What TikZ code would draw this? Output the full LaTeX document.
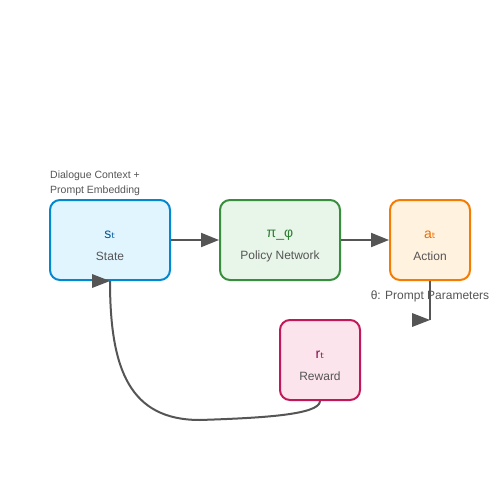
\documentclass[tikz,border=0pt]{standalone}
\usepackage{fontspec}
\setmainfont{Liberation Sans}
\newfontfamily\subfont{DejaVu Sans}
\usetikzlibrary{arrows.meta}
\definecolor{stateFill}{HTML}{E1F5FE}
\definecolor{stateLine}{HTML}{0288D1}
\definecolor{stateText}{HTML}{01579B}
\definecolor{policyFill}{HTML}{E8F5E9}
\definecolor{policyLine}{HTML}{388E3C}
\definecolor{policyText}{HTML}{2E7D32}
\definecolor{actionFill}{HTML}{FFF3E0}
\definecolor{actionLine}{HTML}{F57C00}
\definecolor{actionText}{HTML}{EF6C00}
\definecolor{rewardFill}{HTML}{FCE4EC}
\definecolor{rewardLine}{HTML}{C2185B}
\definecolor{rewardText}{HTML}{880E4F}
\definecolor{labelGray}{HTML}{555555}
\definecolor{arrowGray}{HTML}{555555}
\tikzstyle{box} = [draw, line width=2pt, rounded corners=10pt, minimum height=80pt]
\tikzstyle{sym} = [inner sep=0pt, font=\fontsize{14}{14}\selectfont]
\tikzstyle{lbl} = [inner sep=0pt, text=labelGray, font=\fontsize{12}{12}\selectfont]
\tikzstyle{note} = [inner sep=0pt, text=labelGray, font=\fontsize{10.5}{15}\selectfont]
\tikzstyle{arrow} = [line width=2pt, draw=arrowGray, -{Triangle[length=18pt,width=14pt]}]
\tikzstyle{line} = [line width=2pt, draw=arrowGray]
\newcommand{\headright}[1]{\fill[arrowGray] (#1) -- ++(-18,-7) -- ++(0,14) -- cycle;}

\begin{document}
\begin{tikzpicture}[x=1pt,y=-1pt]
\useasboundingbox (0,0) rectangle (500,500);

\node[box, fill=stateFill, draw=stateLine, minimum width=120pt] (state) at (110,240) {};
\node[box, fill=policyFill, draw=policyLine, minimum width=120pt] (policy) at (280,240) {};
\node[box, fill=actionFill, draw=actionLine, minimum width=80pt] (action) at (430,240) {};
\node[box, fill=rewardFill, draw=rewardLine, minimum width=80pt] (reward) at (320,360) {};

\node[sym, text=stateText] (stateSym) at (110,235) {s{\subfont ₜ}};
\node[lbl] (stateLbl) at (110,256) {State};
\node[sym, text=policyText] (policySym) at (280,235) {π\_φ};
\node[lbl] (policyLbl) at (280,256) {Policy Network};
\node[sym, text=actionText] (actionSym) at (430,235) {a{\subfont ₜ}};
\node[lbl] (actionLbl) at (430,256) {Action};
\node[sym, text=rewardText] (rewardSym) at (320,355) {r{\subfont ₜ}};
\node[lbl] (rewardLbl) at (320,376) {Reward};

\node[note, anchor=west, align=left] (context) at (50,183) {Dialogue Context +\\Prompt Embedding};
\node[lbl] (theta) at (430,296) {θ: Prompt Parameters};

\draw[arrow] (state.east) -- (policy.west);
\draw[arrow] (policy.east) -- (action.west);

%heads drawn pointing right at the loose ends
\coordinate (thetaEnd) at (430,320);
\draw[line] (action.south) -- (thetaEnd);
\headright{thetaEnd}
\draw[line] (reward.south) .. controls (320,415) and (260,418) .. (200,420)
  .. controls (130,420) and (110,370) .. (state.south);
\headright{state.south}

\end{tikzpicture}
\end{document}
